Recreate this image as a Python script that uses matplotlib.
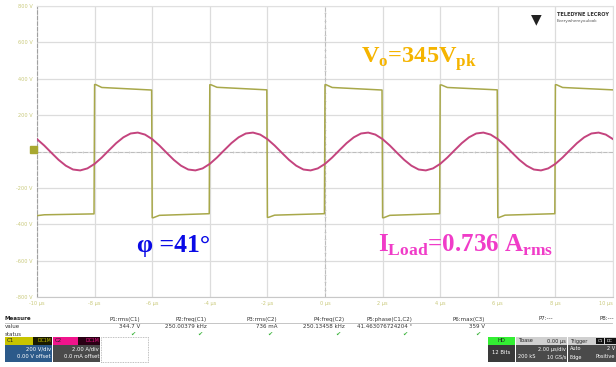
import numpy as np
import matplotlib.pyplot as plt
import matplotlib
from matplotlib.patches import Rectangle
from matplotlib.lines import Line2D
from matplotlib.transforms import blended_transform_factory

matplotlib.rcParams['font.family'] = ['DejaVu Sans']

# ---- waveform data ----
# C1 square wave: edges (us), sign of each half period, |V| at start / just after / end
edge_t = [-10, -8, -6, -4, -2, 0, 2, 4, 6, 8, 10]
seg_sign = [-1, 1, -1, 1, -1, 1, -1, 1, -1, 1]
v_start = [352, 368, 364, 367, 362, 367, 364, 366, 363, 367]
v_settle = [348, 352, 351, 353, 350, 352, 351, 352, 350, 352]
v_end = [343, 338, 342, 339, 342, 338, 342, 339, 342, 339]

# C2 load current (A), one sample every 0.25 us from -10 us to +10 us
i_load = [0.68, 0.33, -0.07, -0.46, -0.78, -0.99, -1.04, -0.93,
          -0.68, -0.33, 0.07, 0.46, 0.78, 0.99, 1.04, 0.93,
          0.68, 0.33, -0.07, -0.46, -0.78, -0.99, -1.04, -0.93,
          -0.68, -0.33, 0.07, 0.46, 0.78, 0.99, 1.04, 0.93,
          0.68, 0.33, -0.07, -0.46, -0.78, -0.99, -1.04, -0.93,
          -0.68, -0.33, 0.07, 0.46, 0.78, 0.99, 1.04, 0.93,
          0.68, 0.33, -0.07, -0.46, -0.78, -0.99, -1.04, -0.93,
          -0.68, -0.33, 0.07, 0.46, 0.78, 0.99, 1.04, 0.93,
          0.68, 0.33, -0.07, -0.46, -0.78, -0.99, -1.04, -0.93,
          -0.68, -0.33, 0.07, 0.46, 0.78, 0.99, 1.04, 0.93,
          0.68]
t_i = np.linspace(-10, 10, len(i_load))

y_ticks = [800, 600, 400, 200, 0, -200, -400, -600, -800]
y_labels = ['800 V', '600 V', '400 V', '200 V', '0', '-200 V', '-400 V', '-600 V', '-800 V']
x_ticks = [-10, -8, -6, -4, -2, 0, 2, 4, 6, 8, 10]
x_labels = ['-10 µs', '-8 µs', '-6 µs', '-4 µs', '-2 µs', '0 µs', '2 µs', '4 µs', '6 µs', '8 µs', '10 µs']

meas_names = ['P1:rms(C1)', 'P2:freq(C1)', 'P3:rms(C2)', 'P4:freq(C2)',
              'P5:phase(C1,C2)', 'P6:max(C3)', 'P7:---', 'P8:---']
meas_values = ['344.7 V', '250.00379 kHz', '736 mA', '250.13458 kHz',
               '41.463076724204 °', '359 V', '', '']

W, H = 616, 367


def fx(x):
    return x / W


def fy(y):
    return 1 - y / H


fig = plt.figure(figsize=(W / 100, H / 100), dpi=100)
ax = fig.add_axes([fx(37), fy(297), fx(613) - fx(37), fy(6) - fy(297)])
ax.set_xlim(-10, 10)
ax.set_ylim(-800, 800)
ax2 = ax.twinx()
ax2.set_ylim(-8, 8)
ax2.axis('off')

ax.set_xticks(x_ticks)
ax.set_yticks(y_ticks)
ax.set_xticklabels(x_labels, fontsize=3.6, color='#c9c97a')
ax.set_yticklabels(y_labels, fontsize=3.6, color='#c9c97a')
ax.get_xticklabels()[-1].set_ha('right')
ax.tick_params(length=0, pad=3)
ax.grid(True, color='#dcdcdc', lw=0.9)
for s in ['top', 'right']:
    ax.spines[s].set_color('#e0e0e0')
ax.spines['bottom'].set_color('#c8c8c8')
ax.spines['left'].set_color('#a0a0a0')
ax.spines['left'].set_linestyle((0, (3, 2)))

# centre cross with minor ticks
ax.axhline(0, color='#bdbdbd', lw=0.7, ls=(0, (4, 2)))
ax.axvline(0, color='#bdbdbd', lw=0.7, ls=(0, (4, 2)))
ax.plot(np.arange(-10, 10.01, 0.4), np.zeros(51), ls='none', marker='|',
        ms=2, mew=0.5, color='#c4c4c4')
ax.plot(np.zeros(41), np.arange(-800, 801, 40), ls='none', marker='_',
        ms=2, mew=0.5, color='#c4c4c4')

# C1 square wave
tv, vv = [], []
for k in range(len(seg_sign)):
    t0, t1 = edge_t[k], edge_t[k + 1]
    sg = seg_sign[k]
    tv += [t0, t0 + 0.04, t0 + 0.25, t1 - 0.02]
    vv += [sg * v_start[k], sg * v_start[k], sg * v_settle[k], sg * v_end[k]]
ax.plot(tv, vv, color='#a8a84a', lw=1.1, zorder=3)

# C2 current
ax2.plot(t_i, i_load, color='#c4447e', lw=1.4, zorder=4)

# ground marker
tr = blended_transform_factory(ax.transAxes, ax.transData)
ax.add_patch(Rectangle((-0.012, -10), 0.012, 40, transform=tr, color='#a8a830',
                       clip_on=False, zorder=5))

# annotations
ax.text(0.563, 0.805, r'V$_\mathregular{o}$=345V$_\mathregular{pk}$', transform=ax.transAxes,
        fontsize=17.5, color='#f5b400', fontweight='bold', family='Liberation Serif')
ax.text(0.174, 0.155, 'φ =41°', transform=ax.transAxes,
        fontsize=18.5, color='#0a0ae6', fontweight='bold', family='Liberation Serif')
ax.text(0.592, 0.155, r'I$_\mathregular{Load}$=0.736 A$_\mathregular{rms}$', transform=ax.transAxes,
        fontsize=18, color='#f03cc8', fontweight='bold', family='Liberation Serif')

# logo
fig.text(fx(536), fy(19), '▼', fontsize=10, color='#222222', ha='center', va='center')
fig.text(fx(557), fy(15), 'TELEDYNE LECROY', fontsize=3.6, color='#333333',
         fontweight='bold', va='center')
fig.text(fx(557), fy(21), 'Everywhereyoulook', fontsize=3, color='#555555', va='center')

# ---- measurement panel ----
fig.text(fx(5), fy(319), 'Measure', fontsize=4, fontweight='bold', color='#222222', va='center')
fig.text(fx(5), fy(327), 'value', fontsize=4, color='#333333', va='center')
fig.text(fx(5), fy(334), 'status', fontsize=4, color='#333333', va='center')
fig.add_artist(Line2D([fx(5), fx(612)], [fy(323), fy(323)], color='#bbbbbb', lw=0.6))
col_right = [140, 207, 277, 345, 412, 485, 553, 614]
for name, val, xr in zip(meas_names, meas_values, col_right):
    fig.text(fx(xr), fy(319), name, fontsize=4, color='#333333', ha='right', va='center')
    if val:
        fig.text(fx(xr), fy(327), val, fontsize=4, color='#333333', ha='right', va='center')
        fig.text(fx(xr - 4), fy(334), '✔', fontsize=4.5, color='#3cb43c', ha='right', va='center')


def box(x0, y0, x1, y1, fc, ec='none', ls='-'):
    fig.add_artist(Rectangle((fx(x0), fy(y1)), fx(x1) - fx(x0), fy(y0) - fy(y1),
                             facecolor=fc, edgecolor=ec, lw=0.6, ls=ls))


# channel C1
box(5, 337, 33, 345, '#c8c400')
box(33, 337, 52, 345, '#1a1a00')
box(5, 345, 52, 362, '#2c5a8a')
fig.text(fx(7), fy(341), 'C1', fontsize=4, color='#222222', va='center')
fig.text(fx(51), fy(341), 'DC1M', fontsize=3.3, color='#c8c400', ha='right', va='center')
fig.text(fx(51), fy(349), '200 V/div', fontsize=3.8, color='white', ha='right', va='center')
fig.text(fx(51), fy(357), '0.00 V offset', fontsize=3.8, color='white', ha='right', va='center')
# channel C2
box(53, 337, 78, 345, '#f0148c')
box(78, 337, 100, 345, '#2a0014')
box(53, 345, 100, 362, '#4a4a4a')
fig.text(fx(55), fy(341), 'C2', fontsize=4, color='#222222', va='center')
fig.text(fx(99), fy(341), 'DC1M', fontsize=3.3, color='#f0148c', ha='right', va='center')
fig.text(fx(99), fy(349), '2.00 A/div', fontsize=3.8, color='white', ha='right', va='center')
fig.text(fx(99), fy(357), '0.0 mA offset', fontsize=3.8, color='white', ha='right', va='center')
# empty slot
box(101, 337, 148, 362, 'white', ec='#aaaaaa', ls=(0, (1, 1)))

# acquisition boxes
box(488, 337, 515, 345, '#33ee33')
box(488, 345, 515, 362, '#3a3a3a')
fig.text(fx(501), fy(341), 'HD', fontsize=3.8, color='#222222', ha='center', va='center')
fig.text(fx(501), fy(353), '12 Bits', fontsize=3.8, color='white', ha='center', va='center')
box(516, 337, 567, 345, '#d0d0d0')
box(516, 345, 567, 362, '#4a4a4a')
fig.text(fx(518), fy(341), 'Tbase', fontsize=3.6, color='#222222', va='center')
fig.text(fx(566), fy(341), '0.00 µs', fontsize=3.6, color='#222222', ha='right', va='center')
fig.text(fx(566), fy(349), '2.00 µs/div', fontsize=3.6, color='white', ha='right', va='center')
fig.text(fx(518), fy(357), '200 kS', fontsize=3.6, color='white', va='center')
fig.text(fx(566), fy(357), '10 GS/s', fontsize=3.6, color='white', ha='right', va='center')
box(568, 337, 616, 345, '#d0d0d0')
box(568, 345, 616, 362, '#4a4a4a')
box(596, 338, 604, 344, '#111111')
box(605, 338, 616, 344, '#111111')
fig.text(fx(570), fy(341), 'Trigger', fontsize=3.6, color='#222222', va='center')
fig.text(fx(600), fy(341), 'C1', fontsize=3, color='white', ha='center', va='center')
fig.text(fx(610), fy(341), 'DC', fontsize=3, color='white', ha='center', va='center')
fig.text(fx(570), fy(349), 'Auto', fontsize=3.6, color='white', va='center')
fig.text(fx(615), fy(349), '2 V', fontsize=3.6, color='white', ha='right', va='center')
fig.text(fx(570), fy(357), 'Edge', fontsize=3.6, color='white', va='center')
fig.text(fx(615), fy(357), 'Positive', fontsize=3.6, color='white', ha='right', va='center')

fig.savefig('out.png', dpi=100, facecolor='white')
